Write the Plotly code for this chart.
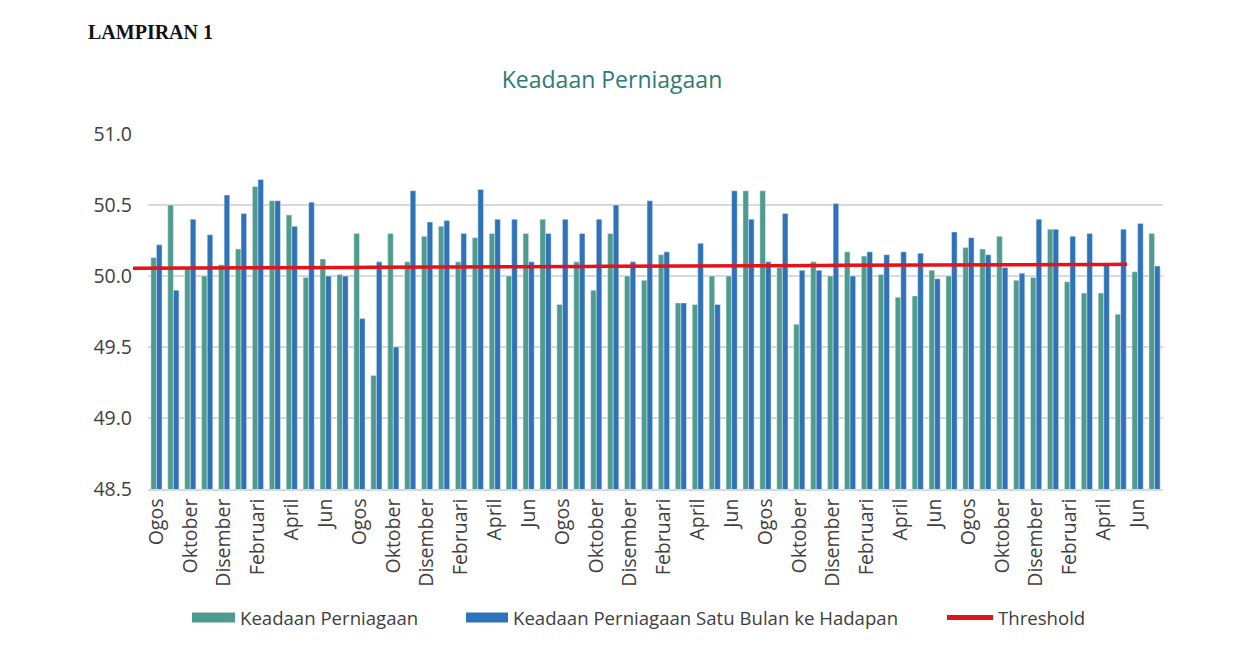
import plotly.graph_objects as go

# nama bulan (label paksi-x), siri bermula Ogos
bulan = ['Januari', 'Februari', 'Mac', 'April', 'Mei', 'Jun', 'Julai',
         'Ogos', 'September', 'Oktober', 'November', 'Disember']
label_bulan = [bulan[(7 + i) % 12] for i in range(60)]

keadaan = [50.13, 50.50, 50.05, 50.00, 50.08, 50.19, 50.63, 50.53, 50.43, 49.99,
           50.12, 50.01, 50.30, 49.30, 50.30, 50.10, 50.28, 50.35, 50.10, 50.27,
           50.30, 50.00, 50.30, 50.40, 49.80, 50.10, 49.90, 50.30, 50.00, 49.97,
           50.15, 49.81, 49.80, 50.00, 50.00, 50.60, 50.60, 50.06, 49.66, 50.10,
           50.00, 50.17, 50.14, 50.01, 49.85, 49.86, 50.04, 50.00, 50.20, 50.19,
           50.28, 49.97, 49.99, 50.33, 49.96, 49.88, 49.88, 49.73, 50.03, 50.30]

satu_bulan = [50.22, 49.90, 50.40, 50.29, 50.57, 50.44, 50.68, 50.53, 50.35, 50.52,
              50.00, 50.00, 49.70, 50.10, 49.50, 50.60, 50.38, 50.39, 50.30, 50.61,
              50.40, 50.40, 50.10, 50.30, 50.40, 50.30, 50.40, 50.50, 50.10, 50.53,
              50.17, 49.81, 50.23, 49.80, 50.60, 50.40, 50.10, 50.44, 50.04, 50.04,
              50.51, 50.00, 50.17, 50.15, 50.17, 50.16, 49.98, 50.31, 50.27, 50.15,
              50.06, 50.02, 50.40, 50.33, 50.28, 50.30, 50.09, 50.33, 50.37, 50.07]

threshold = [50.054, 50.054, 50.055, 50.055, 50.056, 50.056, 50.057, 50.057, 50.058, 50.058,
             50.059, 50.059, 50.060, 50.060, 50.061, 50.061, 50.062, 50.062, 50.063, 50.063,
             50.064, 50.064, 50.065, 50.065, 50.066, 50.066, 50.067, 50.067, 50.068, 50.068,
             50.069, 50.069, 50.070, 50.070, 50.071, 50.071, 50.072, 50.072, 50.073, 50.073,
             50.074, 50.074, 50.075, 50.075, 50.076, 50.076, 50.077, 50.077, 50.078, 50.078,
             50.079, 50.079, 50.079, 50.080, 50.080, 50.080, 50.081, 50.081, 50.081, 50.082]

HIJAU = '#4f9c8f'
BIRU = '#2f72b8'
MERAH = '#e3121b'
FONT = 'Open Sans'
GRID = '#d9d9d9'
TEKS = '#404040'

# halaman html ada margin 8px, jadi rajah dikecilkan sedikit
W, H = 1241, 645
KIRI, KANAN, ATAS, BAWAH = 125, 1155, 126, 481
PW, PH = KANAN - KIRI, BAWAH - ATAS

x = list(range(len(label_bulan)))

fig = go.Figure()
fig.add_trace(go.Bar(x=x, y=keadaan, marker_color=HIJAU,
                     name='Keadaan Perniagaan', showlegend=False))
fig.add_trace(go.Bar(x=x, y=satu_bulan, marker_color=BIRU,
                     name='Keadaan Perniagaan Satu Bulan ke Hadapan', showlegend=False))
fig.add_trace(go.Scatter(x=list(range(len(threshold))), y=threshold, mode='lines',
                         line=dict(color=MERAH, width=3.5), name='Threshold',
                         xaxis='x2', yaxis='y2', showlegend=False))

# entri legenda (garis tebal meniru kotak warna), satu legenda setiap entri
fig.add_trace(go.Scatter(x=[None], y=[None], mode='lines', name='Keadaan Perniagaan',
                         line=dict(color=HIJAU, width=10), legend='legend'))
fig.add_trace(go.Scatter(x=[None], y=[None], mode='lines',
                         name='Keadaan Perniagaan Satu Bulan ke Hadapan',
                         line=dict(color=BIRU, width=10), legend='legend2'))
fig.add_trace(go.Scatter(x=[None], y=[None], mode='lines', name='Threshold',
                         line=dict(color=MERAH, width=5), legend='legend3'))


def legenda(kiri, lebar):
    return dict(orientation='h', x=(kiri - 8 - 5 - KIRI) / PW, xanchor='left',
                y=(BAWAH - 610) / PH, yanchor='middle', itemwidth=lebar,
                bgcolor='rgba(0,0,0,0)',
                font=dict(family=FONT, size=18.6, color=TEKS))


fig.update_layout(
    width=W, height=H,
    margin=dict(l=KIRI, r=W - KANAN, t=ATAS, b=H - BAWAH),
    paper_bgcolor='white', plot_bgcolor='rgba(0,0,0,0)',
    font=dict(family=FONT, color=TEKS),
    barmode='group', bargap=0.34, bargroupgap=0,
    title=dict(text='Keadaan Perniagaan', x=604 / W, xref='container', xanchor='center',
               y=1 - 72 / H, yref='container', yanchor='middle',
               font=dict(family=FONT, size=23, color='#2d7b74')),
    xaxis=dict(domain=[15 / PW, 1], range=[-0.5, 59.5],
               tickmode='array', tickvals=x[::2], ticktext=label_bulan[::2],
               tickangle=-90, tickfont=dict(size=19.5, color=TEKS),
               showgrid=False, showline=True, linecolor=GRID, linewidth=1.5,
               ticks='', zeroline=False),
    yaxis=dict(range=[48.5, 51.0], dtick=0.5, tickformat='.1f',
               tickfont=dict(size=19.5, color=TEKS),
               showgrid=True, gridcolor=GRID, gridwidth=1.5,
               zeroline=False, ticks='', ticklabelstandoff=15),
    xaxis2=dict(domain=[0, (1119 - KIRI) / PW], range=[0, len(threshold) - 1],
                visible=False, anchor='y2'),
    yaxis2=dict(range=[48.5, 51.0], visible=False, anchor='x2', showgrid=False),
    legend=legenda(192, 43),
    legend2=legenda(466, 42),
    legend3=legenda(947, 46),
    annotations=[dict(text='<b>LAMPIRAN 1</b>', xref='paper', yref='paper',
                      x=(78 - KIRI) / PW, y=(BAWAH - 24) / PH,
                      xanchor='left', yanchor='middle', showarrow=False,
                      font=dict(family='Liberation Serif', size=20, color='#111111'))],
)

fig.write_html('out.html')
